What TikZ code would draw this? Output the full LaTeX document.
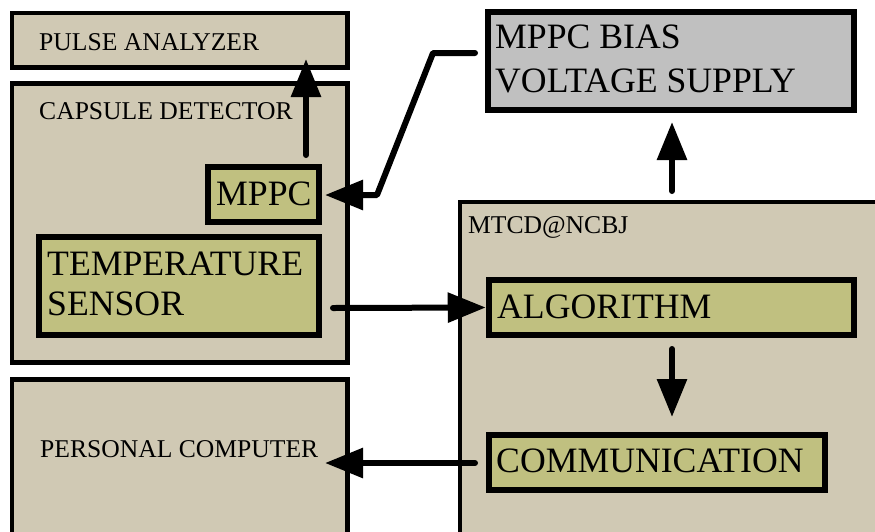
\documentclass[tikz,border=0pt]{standalone}
\usepackage{fontspec}
\setmainfont{Liberation Serif}
\usetikzlibrary{arrows.meta}
\definecolor{tanfill}{RGB}{208,201,180}
\definecolor{olivefill}{RGB}{192,192,128}
\definecolor{grayfill}{RGB}{192,192,192}
\tikzset{
  panel/.style={draw=black, line width=4.5pt, fill=tanfill, inner sep=0pt},
  unitbox/.style={draw=black, line width=6.5pt, fill=olivefill, inner sep=0pt},
  supplybox/.style={draw=black, line width=6.5pt, fill=grayfill, inner sep=0pt},
  smalltxt/.style={inner sep=0pt, anchor=base west, font=\rmfamily\fontsize{25.6}{30}\selectfont},
  bigtxt/.style={inner sep=0pt, anchor=base west, font=\rmfamily\fontsize{35.7}{40}\selectfont},
  flow/.style={line width=6pt, line cap=round, line join=round,
    -{Triangle[length=38pt,width=29pt]}}
}
\begin{document}
\begin{tikzpicture}[x=1pt,y=-1pt]
\useasboundingbox (0,0) rectangle (875,531);
\fill[white] (0,0) rectangle (875,531);
\clip (0,0) rectangle (875,531);

% left column panels
\node[panel, minimum width=335.5pt, minimum height=54.5pt] (pulse) at (179.75,40.25) {};
\node[panel, minimum width=335.5pt, minimum height=279pt] (capsule) at (179.75,223) {};
\node[panel, minimum width=335.5pt, minimum height=200pt] (pc) at (179.75,479.5) {};

% right column panel (runs off the page edges)
\node[panel, minimum width=460pt, minimum height=400pt] (mtcd) at (690,402) {};

% units inside the panels
\node[unitbox, minimum width=111pt, minimum height=55pt] (mppc) at (263.5,194.5) {};
\node[unitbox, minimum width=280pt, minimum height=98pt] (temp) at (179,286) {};
\node[unitbox, minimum width=365pt, minimum height=55pt] (algo) at (671.5,307.5) {};
\node[unitbox, minimum width=336pt, minimum height=55pt] (comm) at (657,462.5) {};
\node[supplybox, minimum width=366pt, minimum height=98pt] (bias) at (671,61) {};

% labels
\node[smalltxt] (tpulse) at (39,50) {PULSE ANALYZER};
\node[smalltxt] (tcapsule) at (39,119) {CAPSULE DETECTOR};
\node[smalltxt] (tpc) at (40,457) {PERSONAL COMPUTER};
\node[smalltxt] (tmtcd) at (468,233) {MTCD@NCBJ};
\node[bigtxt] (tmppc) at (216,205) {MPPC};
\node[bigtxt] (ttemp1) at (47,275) {TEMPERATURE};
\node[bigtxt] (ttemp2) at (47,315) {SENSOR};
\node[bigtxt] (talgo) at (497,318) {ALGORITHM};
\node[bigtxt] (tcomm) at (496,472) {COMMUNICATION};
\node[bigtxt] (tbias1) at (495,48) {MPPC BIAS};
\node[bigtxt] (tbias2) at (495,92) {VOLTAGE SUPPLY};

% connector end points
\coordinate (mppcOut) at (306,155);
\coordinate (pulseIn) at (306,59);
\coordinate (biasOut) at (475,53);
\coordinate (bend1) at (433,53);
\coordinate (bend2) at (377,195);
\coordinate (mppcIn) at (325,195);
\coordinate (tempOut) at (333,308);
\coordinate (algoOut) at (672,349);
\coordinate (commIn) at (672,417);
\coordinate (commOut) at (475,463);
\coordinate (pcIn) at (325,463);
\coordinate (mtcdOut) at (672,191);
\coordinate (biasIn) at (672,122);

% connectors
\draw[flow] (mppcOut) -- (pulseIn);
\draw[flow] (biasOut) -- (bend1) -- (bend2) -- (mppcIn);
\draw[flow] (tempOut) -- (algo.west);
\draw[flow] (algoOut) -- (commIn);
\draw[flow] (commOut) -- (pcIn);
\draw[flow] (mtcdOut) -- (biasIn);
\end{tikzpicture}
\end{document}
